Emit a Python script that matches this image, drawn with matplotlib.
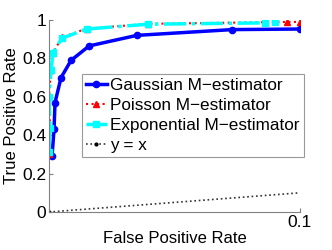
import matplotlib
matplotlib.use('Agg')
import matplotlib.pyplot as plt

# ROC points
gauss_fpr = [0.0012, 0.002, 0.0024, 0.0048, 0.0088, 0.016, 0.035, 0.073, 0.1]
gauss_tpr = [0.29, 0.43, 0.57, 0.70, 0.79, 0.865, 0.92, 0.95, 0.953]

poisson_fpr = [0.0, 0.0004, 0.0, 0.0008, 0.0016, 0.0052, 0.015, 0.0394, 0.0947, 0.1]
poisson_tpr = [0.30, 0.44, 0.60, 0.74, 0.83, 0.91, 0.955, 0.98, 0.99, 0.99]

expo_fpr = [0.0, 0.0004, 0.0, 0.0008, 0.0016, 0.0052, 0.015, 0.0394, 0.0860, 0.0900]
expo_tpr = [0.31, 0.44, 0.60, 0.74, 0.83, 0.905, 0.953, 0.978, 0.985, 0.987]

diag_x = [0.0, 0.1]
diag_y = [0.0, 0.1]

plt.rcParams['font.family'] = ['Liberation Sans', 'DejaVu Sans']

fig = plt.figure(figsize=(3.32, 2.5), dpi=100)
ax = fig.add_axes([0.1476, 0.152, 0.756, 0.768])

ax.plot(gauss_fpr, gauss_tpr, '-o', color='#0000ff', lw=2.5, markersize=4.5,
        label='Gaussian M\u2212estimator')
ax.plot(poisson_fpr, poisson_tpr, ':^', color='#ff0000', lw=1.5, markersize=5,
        label='Poisson M\u2212estimator')
ax.plot(expo_fpr, expo_tpr, '-.s', color='#00ffff', lw=2.5, markersize=5,
        label='Exponential M\u2212estimator')
ax.plot(diag_x, diag_y, ':', color='#333333', lw=1.2, marker='.', markersize=4,
        markevery=[0], mfc='black', mec='black', label='y = x')

ax.set_xlim(0, 0.1)
ax.set_ylim(0, 1)
ax.set_xticks([0, 0.1])
ax.set_xticklabels(['', '0.1'])
ax.set_yticks([0, 0.2, 0.4, 0.6, 0.8, 1])
ax.set_yticklabels(['0', '0.2', '0.4', '0.6', '0.8', '1'])
ax.tick_params(direction='in', labelsize=12.5, length=3, color='#808080', pad=2)

for s in ['top', 'right']:
    ax.spines[s].set_visible(False)
for s in ['left', 'bottom']:
    ax.spines[s].set_color('#808080')
    ax.spines[s].set_linewidth(0.8)

ax.set_xlabel('False Positive Rate', fontsize=12, labelpad=1)
ax.set_ylabel('True Positive Rate', fontsize=12, labelpad=2)

leg = ax.legend(loc='lower left', bbox_to_anchor=(0.131, 0.286), fontsize=12.3,
                frameon=True, fancybox=False, borderpad=0.25, labelspacing=0.28,
                handlelength=1.2, handletextpad=0.2, borderaxespad=0)
leg.get_frame().set_edgecolor('#808080')
leg.get_frame().set_linewidth(0.8)

fig.savefig('out.png', dpi=100)
